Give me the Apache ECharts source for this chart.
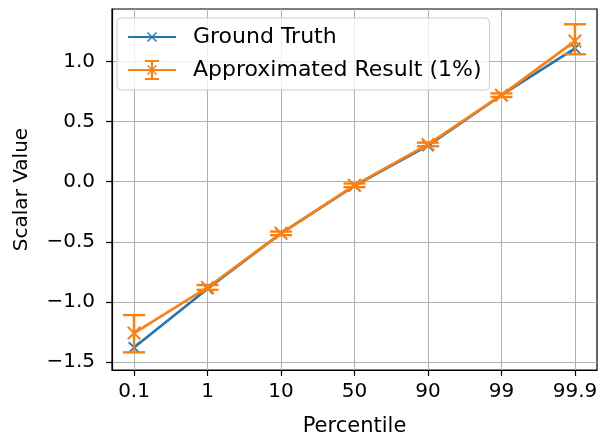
<!DOCTYPE html>
<html>
<head>
<meta charset="utf-8">
<script src="https://cdn.jsdelivr.net/npm/echarts@6/dist/echarts.min.js"></script>
<style>
  html, body { margin: 0; padding: 0; background: #fff; }
  #chart { width: 600px; height: 434px; }
</style>
</head>
<body>
<div id="chart"></div>
<script>
// percentiles on the x axis (placed at index positions 0..6)
var percentiles = ['0.1', '1', '10', '50', '90', '99', '99.9'];
var groundTruth = [-1.38, -0.89, -0.43, -0.035, 0.30, 0.72, 1.11];
var approx = [-1.26, -0.88, -0.43, -0.03, 0.31, 0.72, 1.17];
var approxLow = [-1.42, -0.90, -0.445, -0.045, 0.295, 0.705, 1.06];
var approxHigh = [-1.11, -0.86, -0.415, -0.015, 0.325, 0.735, 1.31];
var yTicks = [-1.5, -1.0, -0.5, 0.0, 0.5, 1.0];

var BLUE = '#1f77b4';
var ORANGE = '#ff7f0e';
var FONT = 'DejaVu Sans';

var xMark = 'path://M0,1 L1,0 L5,4 L9,0 L10,1 L6,5 L10,9 L9,10 L5,6 L1,10 L0,9 L4,5 Z';
var specks = 'M0,0 L0.2,0 L0,0.2 Z M60,24 L60,23.8 L59.8,24 Z ';
var legLine = 'M0,11 L48,11 L48,13 L0,13 Z ';
var legX = 'M19,8 L20,7 L24,11 L28,7 L29,8 L25,12 L29,16 L28,17 L24,13 L20,17 L19,16 L23,12 Z ';
var legErr = 'M23,2 L25,2 L25,22 L23,22 Z M17,2 L31,2 L31,4 L17,4 Z M17,20 L31,20 L31,22 L17,22 Z ';

var idx = percentiles.map(function (p, i) { return i; });

var chart = echarts.init(document.getElementById('chart'));
chart.setOption({
  animation: false,
  textStyle: { fontFamily: FONT },
  grid: {
    left: 112, right: 3, top: 9, bottom: 64,
    outerBoundsMode: 'none', containLabel: false,
    show: true, borderColor: '#000', borderWidth: 1.2, backgroundColor: 'transparent'
  },
  legend: {
    orient: 'vertical',
    left: 117, top: 18,
    padding: [7, 8, 8, 11],
    itemGap: 9,
    itemWidth: 60, itemHeight: 24,
    backgroundColor: 'rgba(255,255,255,0.8)',
    borderColor: '#cccccc', borderWidth: 1, borderRadius: 4,
    textStyle: { fontFamily: FONT, fontSize: 22, color: '#000' },
    data: [
      { name: 'Ground Truth', icon: 'path://' + specks + legLine + legX },
      { name: 'Approximated Result (1%)', icon: 'path://' + specks + legLine + legErr + legX }
    ]
  },
  xAxis: {
    type: 'value', min: -0.3, max: 6.3,
    name: 'Percentile', nameLocation: 'middle', nameGap: 46,
    nameTextStyle: { fontFamily: FONT, fontSize: 21, color: '#000' },
    axisLine: { show: true, onZero: false, lineStyle: { color: '#000', width: 1.2 } },
    axisTick: { show: true, length: 6, lineStyle: { color: '#000', width: 1.2 }, customValues: idx },
    axisLabel: {
      customValues: idx, margin: 12, fontFamily: FONT, fontSize: 20, color: '#000',
      formatter: function (v) { return percentiles[Math.round(v)]; }
    },
    splitLine: { show: true, lineStyle: { color: '#b0b0b0', width: 1 } }
  },
  yAxis: {
    type: 'value', min: -1.567, max: 1.437,
    name: 'Scalar Value', nameLocation: 'middle', nameGap: 80,
    nameTextStyle: { fontFamily: FONT, fontSize: 20, color: '#000' },
    axisLine: { show: true, onZero: false, lineStyle: { color: '#000', width: 1.2 } },
    axisTick: { show: true, length: 6, lineStyle: { color: '#000', width: 1.2 }, customValues: yTicks },
    axisLabel: {
      customValues: yTicks, margin: 17, fontFamily: FONT, fontSize: 20, color: '#000',
      formatter: function (v) { return v.toFixed(1).replace('-', '\u2212'); }
    },
    splitLine: { show: true, lineStyle: { color: '#b0b0b0', width: 1 } }
  },
  series: [
    {
      name: 'Ground Truth', type: 'line', z: 3,
      data: groundTruth.map(function (v, i) { return [i, v]; }),
      symbol: xMark, symbolSize: 12, showAllSymbol: true,
      itemStyle: { color: BLUE, borderWidth: 0 },
      lineStyle: { color: BLUE, width: 2.6 }
    },
    {
      name: 'Approximated Result (1%)', type: 'line', z: 4,
      data: approx.map(function (v, i) { return [i, v]; }),
      symbol: xMark, symbolSize: 14, showAllSymbol: true,
      itemStyle: { color: ORANGE, borderWidth: 0 },
      lineStyle: { color: ORANGE, width: 2.6 }
    },
    {
      name: 'Approximated Result (1%)', type: 'custom', z: 4,
      data: approx.map(function (v, i) { return [i, approxLow[i], approxHigh[i]]; }),
      encode: { x: 0, y: [1, 2] },
      renderItem: function (params, api) {
        var lo = api.coord([api.value(0), api.value(1)]);
        var hi = api.coord([api.value(0), api.value(2)]);
        var w = 11;
        var st = { stroke: ORANGE, lineWidth: 2.4 };
        return {
          type: 'group',
          children: [
            { type: 'line', shape: { x1: lo[0], y1: lo[1], x2: hi[0], y2: hi[1] }, style: st },
            { type: 'line', shape: { x1: lo[0] - w, y1: lo[1], x2: lo[0] + w, y2: lo[1] }, style: st },
            { type: 'line', shape: { x1: hi[0] - w, y1: hi[1], x2: hi[0] + w, y2: hi[1] }, style: st }
          ]
        };
      }
    }
  ]
});
</script>
</body>
</html>
